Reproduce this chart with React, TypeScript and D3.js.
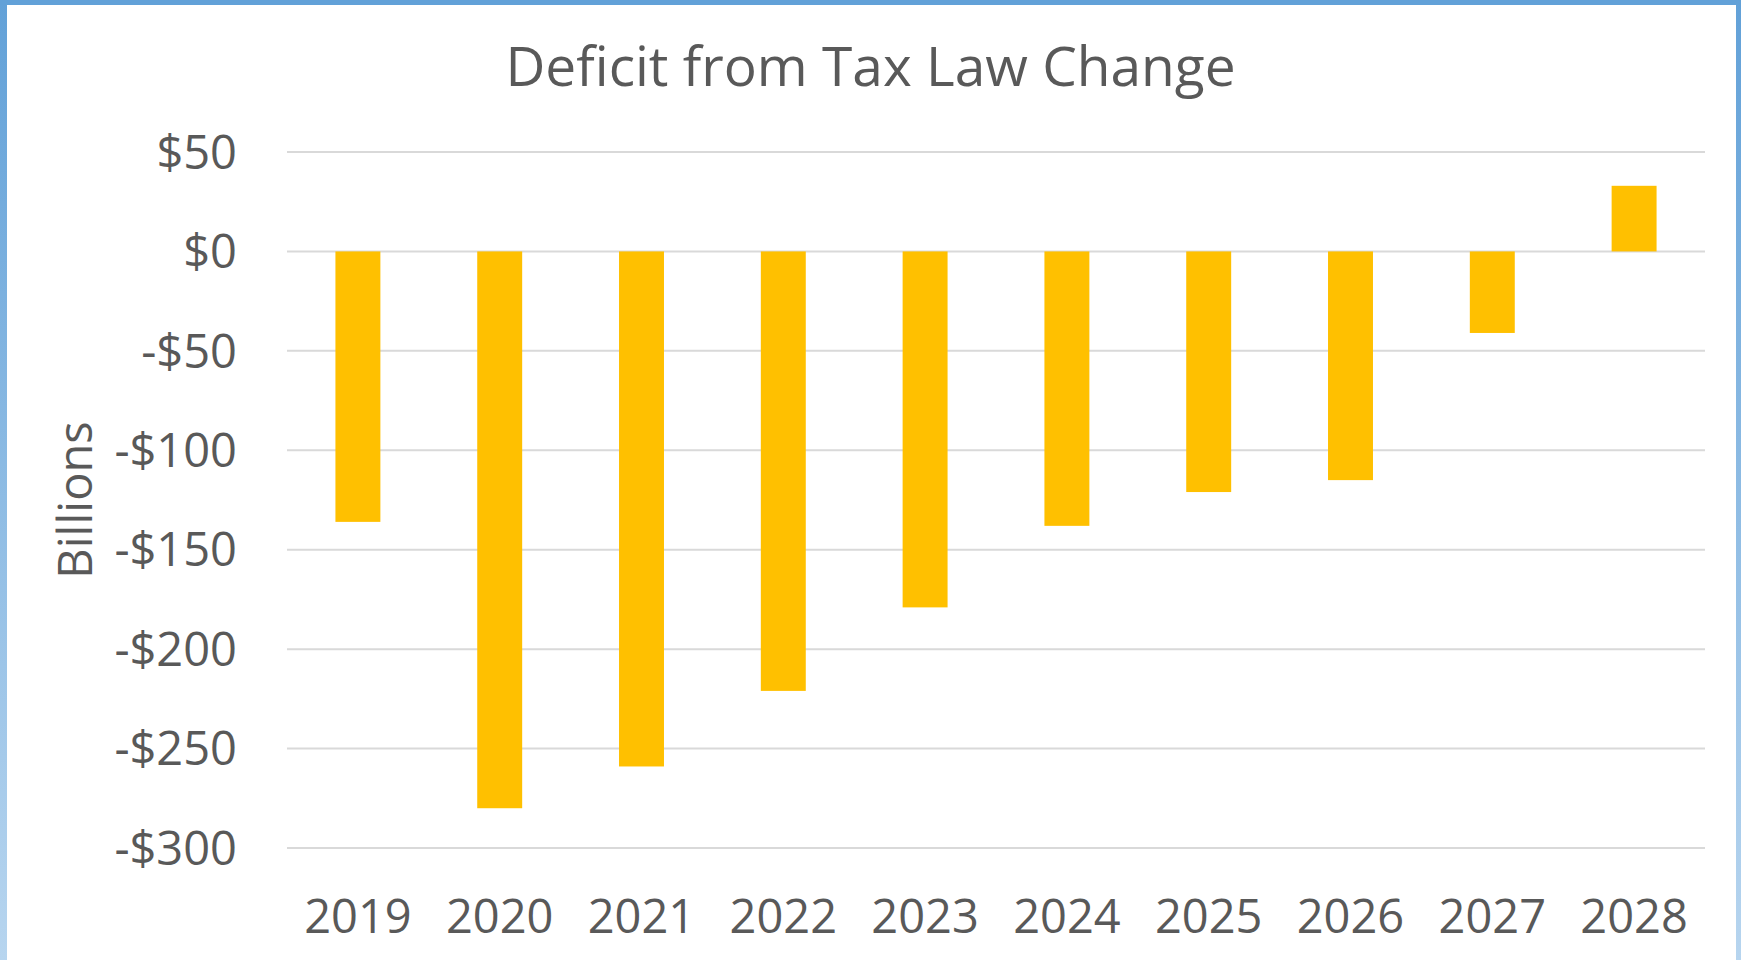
import React from "react";
import * as d3 from "d3";

const years = ["2019", "2020", "2021", "2022", "2023", "2024", "2025", "2026", "2027", "2028"];
const deficit = [-136, -280, -259, -221, -179, -138, -121, -115, -41, 33];
const yTicks = [50, 0, -50, -100, -150, -200, -250, -300];

const W = 1741;
const H = 960;
const FONT = "'Open Sans', 'Noto Sans', sans-serif";
const TEXT = "#595959";

export default function App() {
  const x = d3
    .scaleBand<string>()
    .domain(years)
    .range([287, 1705])
    .paddingInner(0.683)
    .paddingOuter(0.3415);
  const y = d3.scaleLinear().domain([-300, 50]).range([848, 152]);
  const fmt = (v: number) => (v < 0 ? "-$" + Math.abs(v) : "$" + v);
  const tickFs = 47;

  return (
    <svg
      width={W}
      height={H}
      viewBox={`0 0 ${W} ${H}`}
      style={{ position: "absolute", left: 0, top: 0, background: "#fff" }}
    >
      <defs>
        <linearGradient id="edge" x1="0" y1="0" x2="0" y2="1">
          <stop offset="0" stopColor="#62a1d8" />
          <stop offset="1" stopColor="#b7d5ef" />
        </linearGradient>
      </defs>
      <rect x={0} y={0} width={W} height={H} fill="#fff" />
      <rect x={0} y={0} width={7} height={H} fill="url(#edge)" />
      <rect x={W - 5} y={0} width={5} height={H} fill="url(#edge)" />
      <rect x={0} y={0} width={W} height={5} fill="#62a1d8" />

      <text
        x={W / 2}
        y={86}
        textAnchor="middle"
        fontFamily={FONT}
        fontSize={55}
        fill={TEXT}
      >
        Deficit from Tax Law Change
      </text>

      {yTicks.map((t) => (
        <g key={t}>
          <line x1={287} x2={1705} y1={y(t)} y2={y(t)} stroke="#d9d9d9" strokeWidth={2} />
          <text
            x={237}
            y={y(t) + 0.357 * tickFs}
            textAnchor="end"
            fontFamily={FONT}
            fontSize={tickFs}
            fill={TEXT}
          >
            {fmt(t)}
          </text>
        </g>
      ))}

      {years.map((yr, i) => {
        const v = deficit[i];
        const y0 = y(Math.max(0, v));
        const y1 = y(Math.min(0, v));
        return (
          <rect
            key={yr}
            x={x(yr)}
            y={y0}
            width={x.bandwidth()}
            height={y1 - y0}
            fill="#FFC000"
          />
        );
      })}

      {years.map((yr) => (
        <text
          key={yr}
          x={(x(yr) as number) + x.bandwidth() / 2}
          y={933}
          textAnchor="middle"
          fontFamily={FONT}
          fontSize={tickFs}
          fill={TEXT}
        >
          {yr}
        </text>
      ))}

      <text
        transform={`translate(92, ${(y(50) + y(-300)) / 2}) rotate(-90)`}
        textAnchor="middle"
        fontFamily={FONT}
        fontSize={47}
        fill={TEXT}
      >
        Billions
      </text>
    </svg>
  );
}
